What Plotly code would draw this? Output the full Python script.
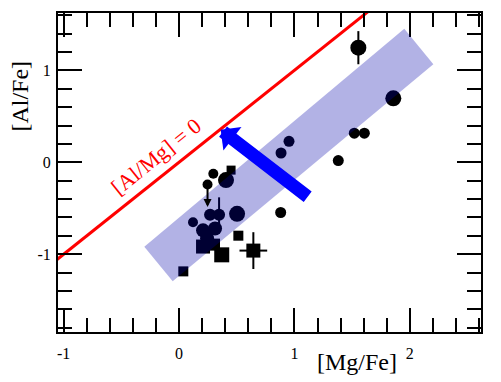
import plotly.graph_objects as go

# circles: [Mg/Fe], [Al/Fe], marker size (px), y error
circ_x = [0.297, 0.407, 0.247, 0.269, 0.347, 0.503, 0.121, 0.208, 0.312, 0.243,
          1.554, 1.857, 0.953, 0.884, 1.519, 1.606, 1.380, 0.881]
circ_y = [-0.125, -0.193, -0.242, -0.571, -0.571, -0.560, -0.652, -0.740, -0.719, -0.827,
          1.246, 0.695, 0.228, 0.101, 0.317, 0.317, 0.019, -0.546]
circ_s = [10, 16, 10, 12, 12, 16, 10, 14, 14, 14,
          16, 16, 11, 11, 11, 11, 11, 11]
circ_ey = [0, 0, 0, 0, 0.19, 0, 0, 0, 0, 0,
           0.18, 0, 0, 0, 0, 0, 0, 0]

# squares
sq_x = [0.451, 0.514, 0.370, 0.644, 0.037, 0.208, 0.303]
sq_y = [-0.085, -0.798, -1.006, -0.960, -1.186, -0.916, -0.895]
sq_s = [9, 10, 15, 14, 10, 14, 12]
sq_ex = [0, 0, 0, 0.12, 0, 0, 0]
sq_ey = [0, 0, 0, 0.20, 0, 0, 0]

# upper limit (circle with downward arrow)
lim_x, lim_y, lim_to = 0.247, -0.242, -0.485

# shaded band corners and blue arrow
band_x = [-0.301, 1.952, 2.204, -0.055]
band_y = [-0.917, 1.451, 1.066, -1.294]
arrow_tail = (1.128, -0.387)
arrow_tip = (0.361, 0.354)

line_x = [-1.3, 1.9]  # [Al/Mg] = 0

serif = "Liberation Serif, Times New Roman, Times, DejaVu Serif, serif"

fig = go.Figure()

fig.add_trace(go.Scatter(
    x=circ_x, y=circ_y, mode="markers",
    marker=dict(symbol="circle", size=circ_s, color="black", opacity=1, line=dict(width=0)),
    error_y=dict(type="data", array=circ_ey, color="black", thickness=2, width=0),
))
fig.add_trace(go.Scatter(
    x=sq_x, y=sq_y, mode="markers",
    marker=dict(symbol="square", size=sq_s, color="black", opacity=1, line=dict(width=0)),
    error_x=dict(type="data", array=sq_ex, color="black", thickness=2, width=0),
    error_y=dict(type="data", array=sq_ey, color="black", thickness=2, width=0),
))
fig.add_trace(go.Scatter(
    x=line_x, y=line_x, mode="lines",
    line=dict(color="#ff0000", width=3),
))

band_path = "M " + " L ".join(f"{a},{b}" for a, b in zip(band_x, band_y)) + " Z"
fig.add_shape(type="path", path=band_path, xref="x", yref="y",
              fillcolor="rgba(0,0,170,0.3)", line=dict(width=0), layer="above")

fig.add_annotation(x=arrow_tip[0], y=arrow_tip[1], ax=arrow_tail[0], ay=arrow_tail[1],
                   xref="x", yref="y", axref="x", ayref="y", text="",
                   showarrow=True, arrowhead=1, arrowsize=0.38, arrowwidth=13,
                   arrowcolor="#0000ff")
fig.add_annotation(x=lim_x, y=lim_to, ax=lim_x, ay=lim_y,
                   xref="x", yref="y", axref="x", ayref="y", text="",
                   showarrow=True, arrowhead=2, arrowsize=0.8, arrowwidth=2,
                   arrowcolor="black")

fig.add_annotation(x=-0.201, y=0.066, xref="x", yref="y", text="[Al/Mg] = 0",
                   showarrow=False, textangle=-38.8, xanchor="center", yanchor="middle",
                   font=dict(family=serif, size=22, color="#ff0000"))
fig.add_annotation(x=-0.0898, y=0.738, xref="paper", yref="paper", text="[Al/Fe]",
                   showarrow=False, textangle=-90, xanchor="center", yanchor="middle",
                   font=dict(family=serif, size=24, color="black"))
fig.add_annotation(x=0.706, y=-0.0935, xref="paper", yref="paper", text="[Mg/Fe]",
                   showarrow=False, xanchor="center", yanchor="middle",
                   font=dict(family=serif, size=24, color="black"))

axis_common = dict(
    showgrid=False, zeroline=False, showline=True, linewidth=2, linecolor="black",
    mirror="ticks", ticks="inside", ticklen=24, tickwidth=2, tickcolor="black",
    tickfont=dict(family=serif, size=16, color="black"),
)

fig.update_xaxes(
    range=[-1.049, 2.617], tickmode="array",
    tickvals=[-1, 0, 1, 2], ticktext=["-1", "0", "1", "2"],
    minor=dict(dtick=0.2, tick0=0, ticks="inside", ticklen=14, tickwidth=2, tickcolor="black"),
    ticklabelstandoff=6,
    **axis_common,
)
fig.update_yaxes(
    range=[-1.845, 1.623], tickmode="array",
    tickvals=[-1, 0, 1], ticktext=["-1", "0", "1"],
    minor=dict(dtick=0.2, tick0=0, ticks="inside", ticklen=14, tickwidth=2, tickcolor="black"),
    ticklabelstandoff=2,
    **axis_common,
)

# the page body adds an 8px offset, so the figure is 8px smaller and shifted
fig.update_layout(
    width=493, height=374,
    margin=dict(l=50, r=20, t=3, b=50),
    plot_bgcolor="white", paper_bgcolor="white",
    font=dict(family=serif),
    showlegend=False,
)

fig.write_html("out.html")
